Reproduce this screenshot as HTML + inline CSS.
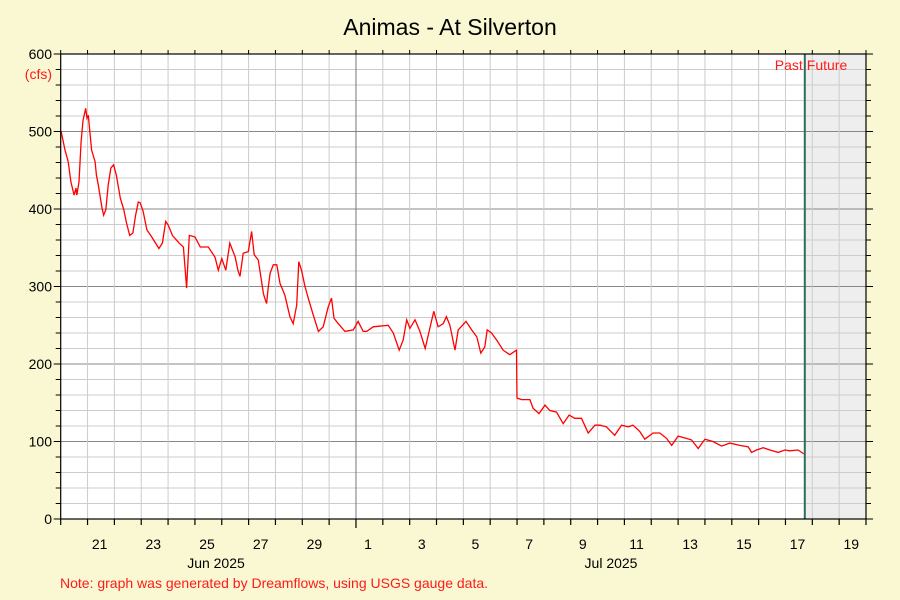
<!DOCTYPE html>
<html><head><meta charset="utf-8"><style>
body{margin:0;background:#f9f8d2;}
svg{display:block;font-family:"Liberation Sans","DejaVu Sans",sans-serif;}
</style></head><body>
<svg id="chart" width="900" height="600" xmlns="http://www.w3.org/2000/svg">
<rect width="900" height="600" fill="#f9f8d2"/>
<text x="450" y="35" text-anchor="middle" font-size="23" fill="#000">Animas - At Silverton</text>
<g id="plot"></g>
<text x="60" y="588" font-size="14" fill="#ff1a1a">Note: graph was generated by Dreamflows, using USGS gauge data.</text>
</svg>
<script>
// days since Jun 20 2025 00:00
const times=[0.01,0.16,0.28,0.38,0.5,0.57,0.6,0.68,0.76,0.83,0.93,0.98,1.03,1.08,1.15,1.28,1.33,1.4,1.53,1.6,1.68,1.77,1.87,1.97,2.07,2.22,2.35,2.45,2.57,2.69,2.79,2.89,2.96,3.07,3.21,3.39,3.66,3.79,3.91,4.01,4.16,4.41,4.57,4.69,4.79,5.0,5.2,5.5,5.75,5.87,6.0,6.15,6.3,6.5,6.6,6.68,6.8,6.99,7.11,7.21,7.36,7.55,7.6,7.67,7.72,7.8,7.92,8.05,8.17,8.35,8.54,8.66,8.79,8.87,8.97,9.1,9.22,9.41,9.6,9.78,9.97,10.09,10.18,10.34,10.59,10.9,11.08,11.27,11.4,11.64,12.2,12.39,12.61,12.76,12.89,13.01,13.2,13.38,13.58,13.75,13.9,14.06,14.25,14.37,14.5,14.69,14.81,15.1,15.31,15.5,15.65,15.8,15.89,16.05,16.24,16.48,16.73,16.98,17.0,17.17,17.48,17.6,17.82,18.04,18.22,18.47,18.72,18.94,19.15,19.4,19.65,19.9,20.09,20.33,20.64,20.89,21.14,21.32,21.57,21.76,22.07,22.32,22.57,22.76,23.0,23.31,23.5,23.75,24.0,24.3,24.62,24.93,25.3,25.61,25.74,25.92,26.17,26.42,26.73,26.98,27.16,27.47,27.6,27.68];
const flows=[501,476,461,435,418,427,418,435,487,514,530,517,521,502,476,461,444,431,403,392,399,431,453,457,444,414,399,382,366,369,392,409,408,397,373,364,349,356,384,379,366,356,351,298,366,364,351,351,338,321,336,321,356,338,321,313,343,345,371,341,334,291,285,278,295,317,328,328,304,289,261,252,276,332,321,300,285,263,242,248,274,285,259,252,242,244,255,242,242,248,250,240,218,231,257,246,257,242,220,246,268,248,252,261,250,218,244,255,244,235,214,222,244,240,231,218,212,218,156,154,154,143,136,147,140,138,123,134,130,130,111,121,121,119,108,121,119,121,113,103,111,111,104,95,107,104,102,91,103,100,94,98,95,93,86,89,92,89,86,89,88,89,86,84];
const yTicks=[0,100,200,300,400,500,600];
const xLabels=["21","23","25","27","29","1","3","5","7","9","11","13","15","17","19"];
const xLabelDays=[1,3,5,7,9,11,13,15,17,19,21,23,25,27,29];
const nowDay=27.72, totalDays=30;

const L=60.7,R=866,T=54,B=519;
const xs=d=>L+(R-L)*d/totalDays;
const ys=v=>B-(B-T)*v/600;
const NS="http://www.w3.org/2000/svg";
const g=document.getElementById('plot');
function mk(tag,attrs,parent){const e=document.createElementNS(NS,tag);for(const k in attrs)e.setAttribute(k,attrs[k]);(parent||g).appendChild(e);return e;}

let e=mk('rect',{x:L,y:T,width:R-L,height:B-T,fill:'#fff'});


e=mk('rect',{x:xs(nowDay),y:T,width:R-xs(nowDay),height:B-T,fill:'#eee'});


// horizontal grid
for(let v=20;v<600;v+=20){
  e=mk('line',{x1:L,x2:R,y1:ys(v),y2:ys(v),stroke:v%100===0?'#888':'#ccc','stroke-width':1});
  
  
}
// vertical grid
for(let d=1;d<totalDays;d++){
  e=mk('line',{x1:xs(d),x2:xs(d),y1:T,y2:B,stroke:d===11?'#777':'#ccc','stroke-width':1});
  
  
}
// series
let pts=times.map((t,i)=>xs(t).toFixed(1)+','+ys(flows[i]).toFixed(1)).join(' ');
e=mk('polyline',{points:pts,fill:'none',stroke:'#f00','stroke-width':1.3});


// now line
e=mk('line',{x1:xs(nowDay),x2:xs(nowDay),y1:T,y2:B,stroke:'#2e6e5e','stroke-width':2});


// border
e=mk('rect',{x:L,y:T,width:R-L,height:B-T,fill:'none',stroke:'#000','stroke-width':1.2});


// y ticks
for(let v=0;v<=600;v+=20){
  const len=v%100===0?7:5;
  e=mk('line',{x1:L-len,x2:L,y1:ys(v),y2:ys(v),stroke:'#000'});
  
  
  e=mk('line',{x1:R,x2:R+len,y1:ys(v),y2:ys(v),stroke:'#000'});
  
  
}
yTicks.forEach(v=>{
  const t=mk('text',{x:52,y:ys(v)+5,'text-anchor':'end','font-size':14,fill:'#000'});
  t.textContent=v;
  
  
});
e=mk('text',{x:52,y:79,'text-anchor':'end','font-size':14,fill:'#ff1a1a'});
e.textContent='(cfs)';


// x ticks
for(let d=0;d<=totalDays;d++){
  e=mk('line',{x1:xs(d),x2:xs(d),y1:B,y2:B+(d===11?9:6),stroke:'#000','stroke-width':1.2});
  
  
  e=mk('line',{x1:xs(d),x2:xs(d),y1:T-4,y2:T,stroke:'#000'});
  
  
}
xLabels.forEach((s,i)=>{
  const t=mk('text',{x:xs(xLabelDays[i]+0.45),y:549,'text-anchor':'middle','font-size':14,fill:'#000'});
  t.textContent=s;
  
  
});
e=mk('text',{x:216,y:568,'text-anchor':'middle','font-size':14,fill:'#000'});
e.textContent='Jun 2025';


e=mk('text',{x:611,y:568,'text-anchor':'middle','font-size':14,fill:'#000'});
e.textContent='Jul 2025';


e=mk('text',{x:xs(nowDay)-2,y:70,'text-anchor':'end','font-size':14,fill:'#ff1a1a'});
e.textContent='Past';


e=mk('text',{x:xs(nowDay)+2,y:70,'font-size':14,fill:'#ff1a1a'});
e.textContent='Future';


</script>
</body></html>
